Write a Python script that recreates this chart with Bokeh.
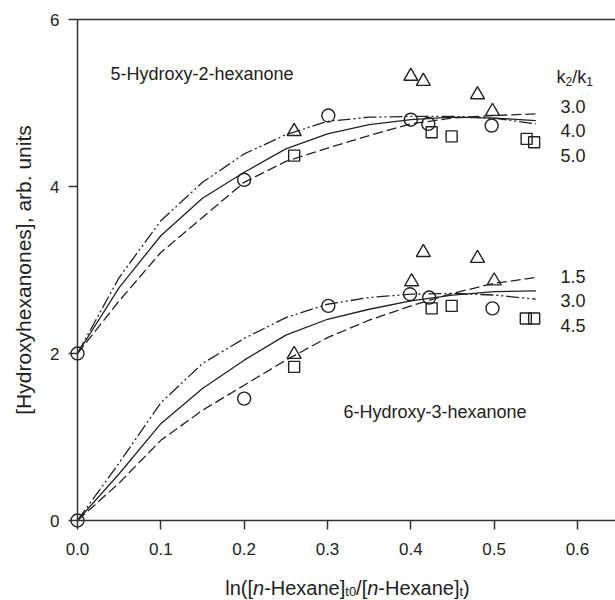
from bokeh.plotting import figure
from bokeh.models import Range1d, FixedTicker, NumeralTickFormatter, Label, LinearAxis
from bokeh.embed import file_html
from bokeh.resources import INLINE

FONT = "Liberation Sans"
INK = "#222222"
AX = "#333333"

# ---- curves (model results), sampled every 0.05 ----
curve_x = [0.0, 0.05, 0.10, 0.15, 0.20, 0.25, 0.30, 0.35, 0.40, 0.45, 0.50, 0.55]
# 5-Hydroxy-2-hexanone, k2/k1 = 3.0 / 4.0 / 5.0
top_k30 = [2.00, 2.91, 3.59, 4.05, 4.39, 4.62, 4.78, 4.83, 4.84, 4.84, 4.82, 4.75]
top_k40 = [2.00, 2.79, 3.41, 3.86, 4.17, 4.45, 4.63, 4.74, 4.80, 4.83, 4.82, 4.79]
top_k50 = [2.00, 2.63, 3.21, 3.63, 4.05, 4.30, 4.46, 4.61, 4.75, 4.82, 4.85, 4.87]
# 6-Hydroxy-3-hexanone
bot_dashdot = [0.00, 0.69, 1.41, 1.88, 2.18, 2.43, 2.59, 2.67, 2.71, 2.72, 2.70, 2.65]
bot_solid = [0.00, 0.56, 1.16, 1.58, 1.92, 2.22, 2.41, 2.53, 2.63, 2.70, 2.74, 2.75]
bot_dashed = [0.00, 0.45, 0.96, 1.32, 1.62, 1.92, 2.19, 2.40, 2.57, 2.72, 2.84, 2.91]

# ---- measurements ----
top_circle_x = [0.0, 0.200, 0.301, 0.400, 0.421, 0.497]
top_circle_y = [2.00, 4.08, 4.85, 4.80, 4.75, 4.73]
top_tri_x = [0.260, 0.400, 0.415, 0.480, 0.498]
top_tri_y = [4.66, 5.32, 5.26, 5.10, 4.90]
top_sq_x = [0.260, 0.425, 0.449, 0.539, 0.548]
top_sq_y = [4.37, 4.65, 4.60, 4.57, 4.53]

bot_circle_x = [0.0, 0.200, 0.301, 0.399, 0.422, 0.498]
bot_circle_y = [0.00, 1.46, 2.57, 2.71, 2.67, 2.54]
bot_tri_x = [0.260, 0.401, 0.415, 0.480, 0.500]
bot_tri_y = [1.99, 2.86, 3.21, 3.14, 2.87]
bot_sq_x = [0.260, 0.425, 0.449, 0.538, 0.548]
bot_sq_y = [1.84, 2.54, 2.57, 2.42, 2.42]

x_ticks = [0.0, 0.1, 0.2, 0.3, 0.4, 0.5, 0.6]
y_ticks = [0, 2, 4, 6]
top_ratio_labels = ["3.0", "4.0", "5.0"]
bot_ratio_labels = ["1.5", "3.0", "4.5"]

# pixel geometry of the reference: x=0 at px 77, 833.3 px per unit; y=0 at px 520, 83.5 px per unit
W, H = 615, 600
X0, XS = 77, 833.3
Y0, YS = 520, 83.5
X_END = (W - X0) / XS

p = figure(width=W, height=H, title=None,
           x_range=Range1d(-X0 / XS, X_END), y_range=Range1d(-(H - Y0) / YS, Y0 / YS),
           output_backend="svg", toolbar_location=None,
           min_border_left=0, min_border_right=0, min_border_top=0, min_border_bottom=0)
p.outline_line_color = None
p.xgrid.grid_line_color = None
p.ygrid.grid_line_color = None
p.background_fill_color = "white"
p.border_fill_color = "white"

xa = p.below[0]
ya = p.left[0]
for ax in (xa, ya):
    ax.fixed_location = 0
    ax.axis_line_color = AX
    ax.axis_line_width = 1.5
    ax.major_tick_line_color = AX
    ax.major_tick_line_width = 1.5
    ax.major_tick_in = 0
    ax.major_tick_out = 9
    ax.minor_tick_line_color = None
    ax.major_label_text_font = FONT
    ax.major_label_text_font_size = "17px"
    ax.major_label_text_color = INK

xa.bounds = (0, X_END)
ya.bounds = (0, 6)
xa.ticker = FixedTicker(ticks=x_ticks)
ya.ticker = FixedTicker(ticks=y_ticks)
xa.formatter = NumeralTickFormatter(format="0.0")
ya.formatter = NumeralTickFormatter(format="0")
xa.major_label_standoff = 13
ya.major_label_standoff = 9
ya.axis_label = "[Hydroxyhexanones], arb. units"
ya.axis_label_text_font = FONT
ya.axis_label_text_font_size = "21px"
ya.axis_label_text_font_style = "normal"
ya.axis_label_text_color = INK
ya.axis_label_standoff = 12

top_axis = LinearAxis(fixed_location=6, bounds=(0, X_END), ticker=FixedTicker(ticks=[]),
                      major_tick_line_color=None, minor_tick_line_color=None,
                      major_label_text_font_size="0px",
                      axis_line_color=AX, axis_line_width=1.5)
p.add_layout(top_axis, "above")

LW = 1.3
DASHED = "10 4"
DASHDOT = "13 3 2 3 2 3"
p.line(curve_x, top_k30, line_color=INK, line_width=LW, line_dash=DASHDOT)
p.line(curve_x, top_k40, line_color=INK, line_width=LW)
p.line(curve_x, top_k50, line_color=INK, line_width=LW, line_dash=DASHED)
p.line(curve_x, bot_dashdot, line_color=INK, line_width=LW, line_dash=DASHDOT)
p.line(curve_x, bot_solid, line_color=INK, line_width=LW)
p.line(curve_x, bot_dashed, line_color=INK, line_width=LW, line_dash=DASHED)

mk = dict(fill_color=None, line_color=INK, line_width=1.4)
for xs, ys in ((top_circle_x, top_circle_y), (bot_circle_x, bot_circle_y)):
    p.scatter(xs, ys, marker="circle", size=13, **mk)
for xs, ys in ((top_tri_x, top_tri_y), (bot_tri_x, bot_tri_y)):
    p.scatter(xs, ys, marker="triangle", size=14, **mk)
for xs, ys in ((top_sq_x, top_sq_y), (bot_sq_x, bot_sq_y)):
    p.scatter(xs, ys, marker="square", size=11, **mk)

# ---- annotations (placed by canvas pixel, converted to data space) ----
def dx(px):
    return (px - X0) / XS

def dy(py):
    return (Y0 - py) / YS

def label(px, py, text, size="18px", style="normal"):
    p.add_layout(Label(x=dx(px), y=dy(py), text=text, text_font=FONT,
                       text_font_size=size, text_font_style=style,
                       text_color=INK, text_baseline="alphabetic", text_align="left"))

label(110, 73, "5-Hydroxy-2-hexanone")
label(343, 411, "6-Hydroxy-3-hexanone")

for i, t in enumerate(top_ratio_labels):
    label(560, 105.5 + 24.5 * i, t)
for i, t in enumerate(bot_ratio_labels):
    label(560, 276 + 24.3 * i, t)

ARIAL = {'l': 222, 'n': 556, '(': 333, '[': 278, '-': 333, 'H': 722, 'e': 556, 'x': 500,
         'a': 556, ']': 278, 't': 278, '0': 556, '/': 278, ')': 333, 'k': 500, '1': 556, '2': 556}

def width(text, size):
    return sum(ARIAL[c] for c in text) * size / 1000.0

def compose(pieces, start_px, base_py):
    x = start_px
    for text, size, style, shift in pieces:
        label(x, base_py + shift, text, size=f"{size}px", style=style)
        x += width(text, size)

k_pieces = [("k", 18, "normal", 0), ("2", 12, "normal", 5), ("/k", 18, "normal", 0), ("1", 12, "normal", 5)]
compose(k_pieces, 556, 76)

xl_pieces = [("ln([", 20, "normal", 0), ("n", 20, "italic", 0), ("-Hexane]", 20, "normal", 0),
             ("t0", 13, "normal", 4), ("/[", 20, "normal", 0), ("n", 20, "italic", 0),
             ("-Hexane]", 20, "normal", 0), ("t", 13, "normal", 4), (")", 20, "normal", 0)]
total = sum(width(t, s) for t, s, _, _ in xl_pieces)
compose(xl_pieces, 347 - total / 2, 587)

open("out.html", "w").write(file_html(p, INLINE))
